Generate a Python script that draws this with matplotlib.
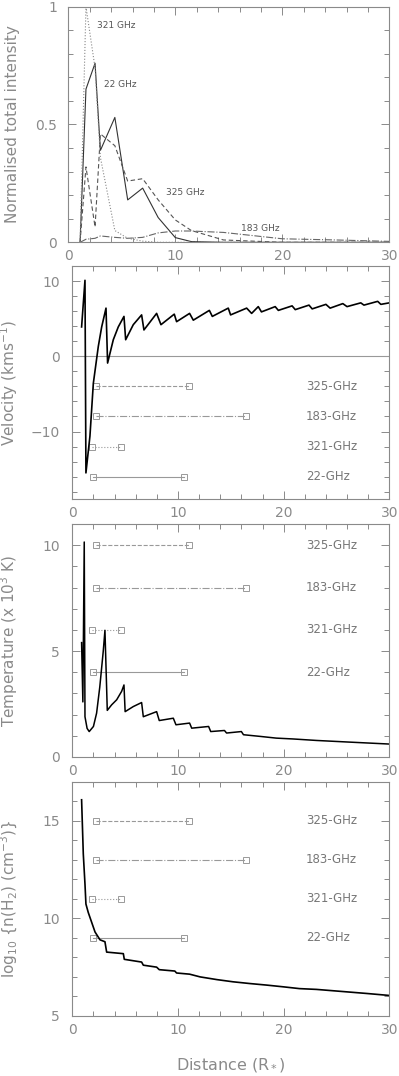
import matplotlib
matplotlib.use("Agg")
import matplotlib.pyplot as plt
from matplotlib.ticker import MultipleLocator

# ---- panel 1: normalised total intensity vs distance
r_int = [1.1, 1.65, 2.5, 3.0, 4.35, 5.55, 6.95, 8.4, 10.0, 11.5, 14.5, 20.0, 25.0, 30.0]
i_22 = [0, 0.65, 0.76, 0.39, 0.53, 0.18, 0.23, 0.105, 0.02, 0.003, 0, 0, 0, 0]
i_325 = [0, 0.32, 0.065, 0.46, 0.41, 0.26, 0.27, 0.18, 0.095, 0.05, 0.01, 0, 0, 0]
i_183 = [0, 0.013, 0.017, 0.027, 0.021, 0.017, 0.021, 0.04, 0.048, 0.048, 0.042, 0.015, 0.01, 0.004]
i_321 = [0, 1.0, 0.74, 0.36, 0.05, 0.017, 0.005, 0, 0, 0, 0, 0, 0, 0]

# ---- panel 2: velocity profile
r_vel = [0.88, 1.2, 1.29, 1.67, 1.99, 2.46, 2.78, 3.19, 3.34, 3.88, 4.35, 4.89, 5.05,
         5.77, 6.56, 6.78, 7.98, 8.39, 9.65, 9.87, 11.1, 11.45, 12.97, 13.25, 14.76,
         14.98, 16.5, 16.97, 17.6, 17.9, 19.2, 19.5, 20.8, 21.1, 22.4, 22.7, 24.0,
         24.4, 25.6, 26.0, 27.3, 27.6, 28.9, 29.2, 30.0]
v_vel = [3.9, 10.1, -15.5, -10.6, -3.6, 1.3, 3.9, 6.4, -0.9, 2.2, 3.9, 5.3, 2.2,
         4.2, 5.5, 3.5, 5.7, 4.2, 5.6, 4.6, 5.7, 4.8, 6.1, 5.3, 6.4,
         5.5, 6.4, 5.7, 6.6, 5.9, 6.6, 6.1, 6.7, 6.2, 6.8, 6.3, 6.9,
         6.4, 7.0, 6.6, 7.1, 6.8, 7.3, 6.9, 7.1]

# ---- panel 3: temperature (x 10^3 K)
r_tem = [0.88, 1.0, 1.13, 1.2, 1.4, 1.6, 2.0, 2.3, 2.6, 2.93, 3.09, 3.31, 3.72, 4.2,
         4.67, 4.89, 5.0, 5.77, 6.56, 6.72, 7.98, 8.23, 9.56, 9.81, 11.1, 11.3, 12.9,
         13.1, 14.4, 14.6, 16.0, 16.2, 17.8, 19.3, 20.9, 23.1, 26.3, 30.0]
t_tem = [5.4, 2.6, 10.15, 1.9, 1.35, 1.2, 1.44, 2.07, 3.3, 5.0, 5.98, 2.2, 2.46, 2.7,
         3.1, 3.4, 2.14, 2.38, 2.57, 1.9, 2.14, 1.72, 1.83, 1.52, 1.6, 1.36, 1.44,
         1.2, 1.25, 1.13, 1.2, 1.05, 0.97, 0.89, 0.85, 0.78, 0.7, 0.61]

# ---- panel 4: log10 n(H2)
r_den = [0.88, 1.04, 1.2, 1.29, 1.51, 1.83, 2.15, 2.62, 3.09, 3.25, 4.83, 4.92, 6.56,
         6.72, 7.98, 8.23, 9.7, 9.87, 11.1, 12.1, 13.7, 15.2, 16.8, 18.4, 20.0, 21.5,
         23.1, 24.7, 26.3, 27.9, 30.0]
n_den = [16.07, 13.3, 11.75, 10.73, 10.3, 9.8, 9.3, 8.9, 8.8, 8.27, 8.19, 7.9, 7.76,
         7.6, 7.5, 7.37, 7.3, 7.2, 7.14, 7.0, 6.86, 6.75, 6.66, 6.58, 6.49, 6.4,
         6.36, 6.29, 6.22, 6.15, 6.05]

# ---- emitting regions of each maser line
lines = ['325-GHz', '183-GHz', '321-GHz', '22-GHz']
reg_start = [2.2, 2.2, 1.9, 2.0]
reg_end = [11.0, 16.4, 4.64, 10.6]
vel_rows = [-4, -8, -12, -16]
tem_rows = [10, 8, 6, 4]
den_rows = [15, 13, 11, 9]
styles = ['--', '-.', ':', '-']

GREY = '#8a8a8a'
plt.rcParams['font.family'] = 'DejaVu Sans'
plt.rcParams['mathtext.fontset'] = 'dejavusans'

fig = plt.figure(figsize=(3.99, 10.76), dpi=100)
ax1 = fig.add_axes([0.1712, 0.7748, 0.8045, 0.2190])
ax2 = fig.add_axes([0.1812, 0.5360, 0.7945, 0.2168])
ax3 = fig.add_axes([0.1812, 0.2965, 0.7945, 0.2165])
ax4 = fig.add_axes([0.1812, 0.0558, 0.7945, 0.2178])


def style_axis(ax, ymajor, yminor, lpad):
    ax.set_xlim(0, 30)
    ax.xaxis.set_major_locator(MultipleLocator(10))
    ax.xaxis.set_minor_locator(MultipleLocator(2))
    ax.yaxis.set_major_locator(MultipleLocator(ymajor))
    ax.yaxis.set_minor_locator(MultipleLocator(yminor))
    ax.tick_params(which='both', direction='in', top=True, right=True,
                   color=GREY, width=0.7, labelcolor=GREY, labelsize=10)
    ax.tick_params(which='major', length=6)
    ax.tick_params(which='minor', length=3.5)
    ax.tick_params(axis='y', pad=lpad)
    ax.tick_params(axis='x', pad=5)
    for s in ax.spines.values():
        s.set_color(GREY)
        s.set_linewidth(0.8)


style_axis(ax1, 0.5, 0.1, 8)
ax1.set_ylim(0, 1)
ax1.set_yticks([0, 0.5, 1])
ax1.set_yticklabels(['0', '0.5', '1'])
ax1.plot(r_int, i_22, '-', color='#333333', lw=0.8)
ax1.plot(r_int, i_325, '--', color='#555555', lw=0.8, dashes=(4, 2.5))
ax1.plot(r_int, i_183, '-.', color='#666666', lw=0.8)
ax1.plot(r_int, i_321, ':', color='#888888', lw=0.8)
ax1.text(2.65, 0.91, '321 GHz', fontsize=6.5, color='#555555')
ax1.text(3.3, 0.66, '22 GHz', fontsize=6.5, color='#555555')
ax1.text(9.1, 0.2, '325 GHz', fontsize=6.5, color='#555555')
ax1.text(16.1, 0.05, '183 GHz', fontsize=6.5, color='#555555')
ax1.set_ylabel('Normalised total intensity', fontsize=11, color=GREY)
ax1.yaxis.set_label_coords(-0.15, 0.5)


def regions(ax, rows):
    for name, a, b, y, ls in zip(lines, reg_start, reg_end, rows, styles):
        ax.plot([a, b], [y, y], linestyle=ls, color='#999999', lw=0.8,
                marker='s', markersize=4, markerfacecolor='none',
                markeredgecolor='#999999', markeredgewidth=0.7)
        ax.text(22.1, y, name, fontsize=8.5, color='#777777', va='center')


style_axis(ax2, 10, 2, 9)
ax2.set_ylim(-19, 12)
ax2.axhline(0, color='#999999', lw=0.8)
regions(ax2, vel_rows)
ax2.plot(r_vel, v_vel, '-', color='black', lw=1.2)
ax2.set_ylabel('Velocity (kms$^{-1}$)', fontsize=11, color=GREY)
ax2.yaxis.set_label_coords(-0.165, 0.5)

style_axis(ax3, 5, 1, 9)
ax3.set_ylim(0, 11)
regions(ax3, tem_rows)
ax3.plot(r_tem, t_tem, '-', color='black', lw=1.1)
ax3.set_ylabel('Temperature (x 10$^3$ K)', fontsize=11, color=GREY)
ax3.yaxis.set_label_coords(-0.165, 0.5)

style_axis(ax4, 5, 1, 9)
ax4.set_ylim(5, 17)
regions(ax4, den_rows)
ax4.plot(r_den, n_den, '-', color='black', lw=1.2)
ax4.set_ylabel('log$_{10}$ {n(H$_2$) (cm$^{-3}$)}', fontsize=11, color=GREY)
ax4.yaxis.set_label_coords(-0.165, 0.5)
ax4.set_xlabel('Distance (R$_*$)', fontsize=11.5, color=GREY, labelpad=14)

fig.savefig('out.png', dpi=100)
